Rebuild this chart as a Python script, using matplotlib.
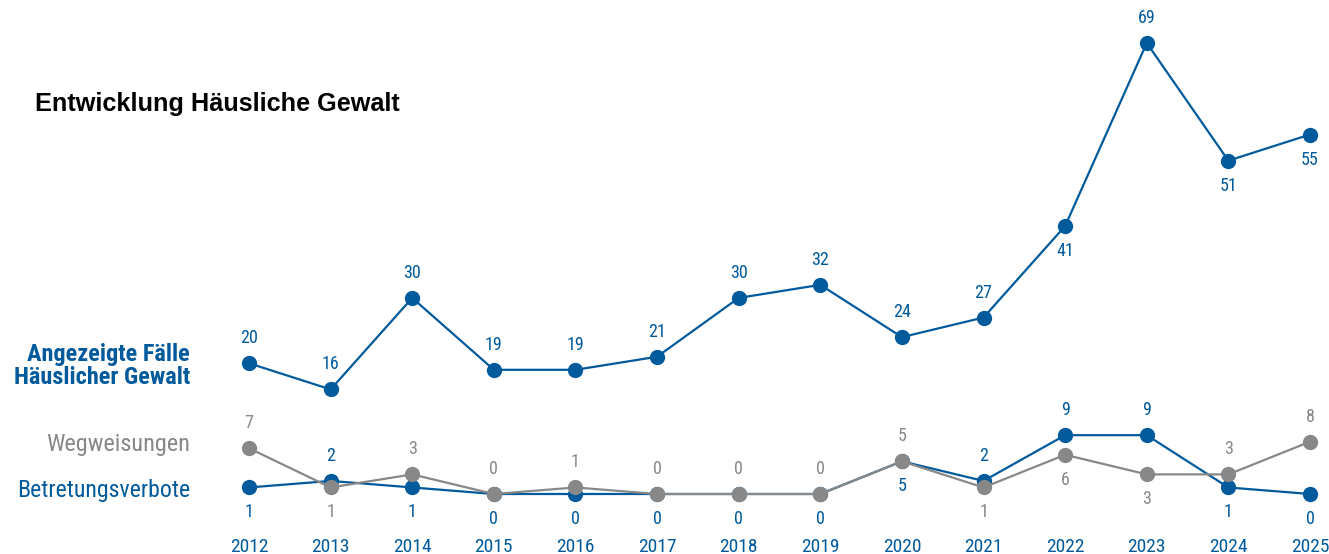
import matplotlib
matplotlib.use("Agg")
import matplotlib.pyplot as plt
from matplotlib import font_manager

years = list(range(2012, 2026))
faelle = [20, 16, 30, 19, 19, 21, 30, 32, 24, 27, 41, 69, 51, 55]
wegweisungen = [7, 1, 3, 0, 1, 0, 0, 0, 5, 1, 6, 3, 3, 8]
betretungsverbote = [1, 2, 1, 0, 0, 0, 0, 0, 5, 2, 9, 9, 1, 0]
# label position: +1 above, -1 below
faelle_pos = [1, 1, 1, 1, 1, 1, 1, 1, 1, 1, -1, 1, -1, -1]
weg_pos = [1, -1, 1, 1, 1, 1, 1, 1, 1, -1, -1, -1, 1, 1]
bet_pos = [-1, 1, -1, -1, -1, -1, -1, -1, -1, 1, 1, 1, -1, -1]

title = "Entwicklung Häusliche Gewalt"
label_faelle = "Angezeigte Fälle\nHäuslicher Gewalt"
label_weg = "Wegweisungen"
label_bet = "Betretungsverbote"

BLUE = "#005a9c"
GRAY = "#888888"

avail = {f.name for f in font_manager.fontManager.ttflist}
narrow = next((n for n in ["Roboto Condensed", "Archivo Narrow", "PT Sans Narrow",
                           "Liberation Sans Narrow", "Liberation Sans"] if n in avail),
              "DejaVu Sans")
plt.rcParams['font.family'] = [narrow, 'DejaVu Sans']

fig = plt.figure(figsize=(13.29, 5.54), dpi=100)
ax = fig.add_axes([0, 0, 1, 1])
ax.set_xlim(2008.949, 2025.233)
ax.set_ylim(-9.18, 75.58)
ax.axis('off')

def series(vals, pos, color, z):
    ax.plot(years, vals, color=color, lw=1.6, marker='o', ms=11, zorder=z,
            markeredgewidth=0)
    for x, v, p in zip(years, vals, pos):
        ax.annotate(str(v), (x, v), xytext=(0, 18 * p), textcoords='offset points',
                    ha='center', va='center', color=color, fontsize=13, zorder=z)

series(faelle, faelle_pos, BLUE, 3)
series(betretungsverbote, bet_pos, BLUE, 3)
series(wegweisungen, weg_pos, GRAY, 4)

for y in years:
    ax.text(y, -8.1, str(y), ha='center', va='center', color=BLUE, fontsize=14)

fig.text(35 / 1329, 1 - 104 / 554, title, ha='left', va='center', fontsize=18.2,
         fontweight='bold', color='black', family=['Liberation Sans', 'DejaVu Sans'])
fig.text(190 / 1329, 1 - 366 / 554, label_faelle, ha='right', va='center', fontsize=17.5,
         fontweight='bold', color=BLUE, linespacing=1.0)
fig.text(190 / 1329, 1 - 444 / 554, label_weg, ha='right', va='center', fontsize=17.5,
         color=GRAY)
fig.text(190 / 1329, 1 - 490 / 554, label_bet, ha='right', va='center', fontsize=17.2,
         color=BLUE)

fig.savefig("out.png", dpi=100)
